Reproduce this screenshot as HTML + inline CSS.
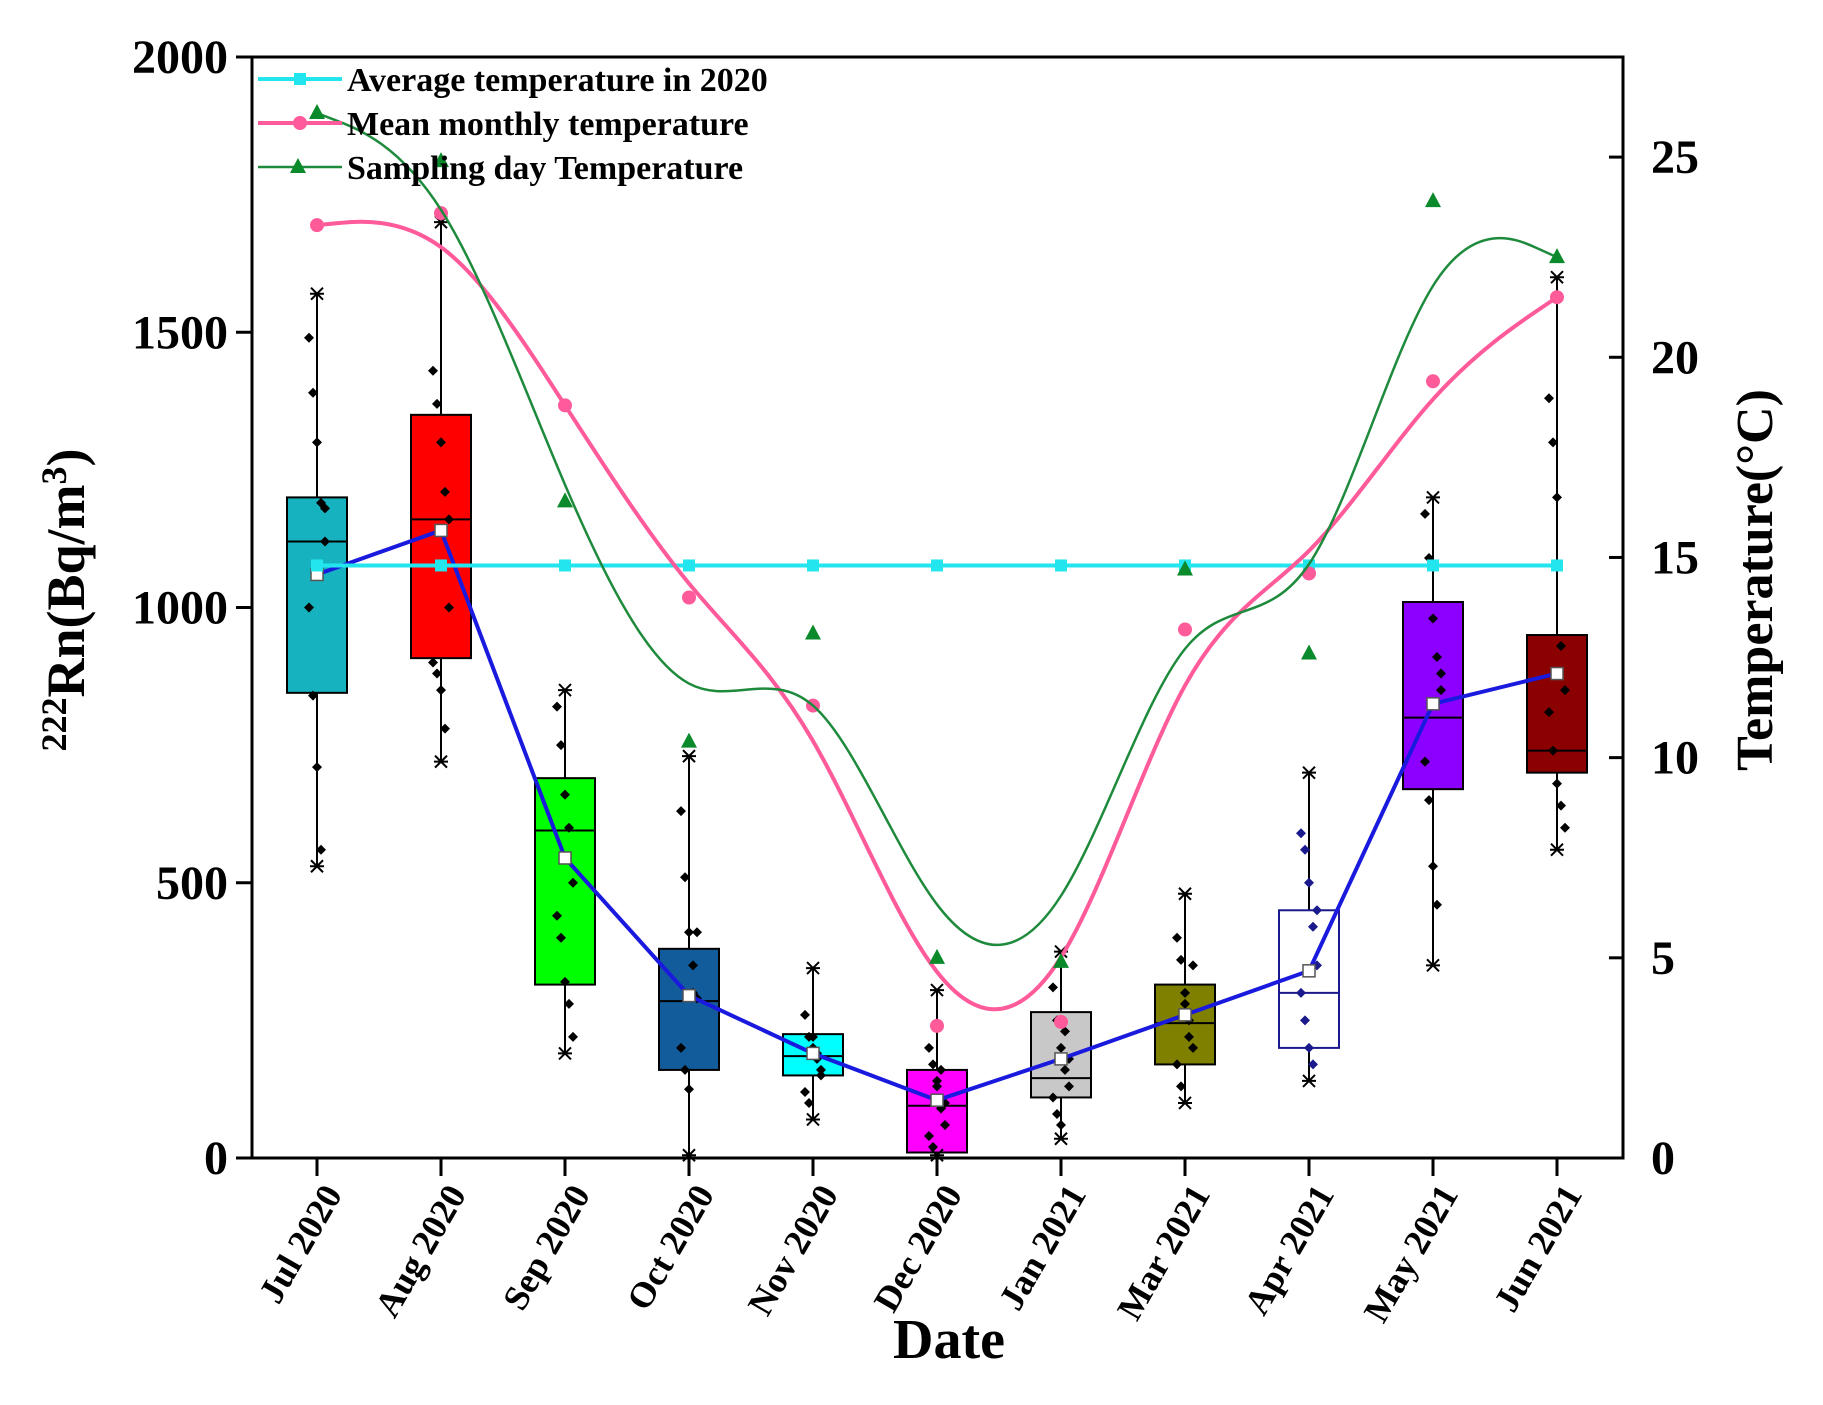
<!DOCTYPE html>
<html><head><meta charset="utf-8"><style>
body{margin:0;background:#fff}
svg{font-family:"Liberation Serif",serif;font-weight:bold}
</style></head><body>
<svg id="chart" width="1823" height="1405" viewBox="0 0 1823 1405" style="position:absolute;left:0;top:0">
<g id="plot"></g>
</svg>
<script>
const categories=["Jul 2020","Aug 2020","Sep 2020","Oct 2020","Nov 2020","Dec 2020","Jan 2021","Mar 2021","Apr 2021","May 2021","Jun 2021"];
const boxQ3=[1200,1350,690,380,225,160,265,315,450,1010,950];
const boxQ1=[845,908,315,160,150,10,110,170,200,670,700];
const boxMedian=[1120,1160,595,285,185,95,145,245,300,800,740];
const boxMean=[1060,1140,545,295,190,105,180,260,340,825,880];
const whiskerHigh=[1570,1700,850,730,345,305,375,480,700,1200,1600];
const whiskerLow=[530,720,190,5,70,5,35,100,140,350,560];
const boxColors=["#17b2bf","#ff0000","#00ff00","#135c9c","#00ffff","#ff00ff","#c8c8c8","#808000","#ffffff","#8c00ff","#8b0000"];
const rawPoints=[
[1490,1390,1300,1190,1120,1000,840,710,560,1180],
[1430,1370,1300,1210,1000,900,880,850,780,1160],
[820,750,660,600,500,440,400,320,280,220],
[630,510,410,350,290,200,160,125,300,410],
[260,220,200,180,160,120,100,220,190,150],
[200,170,130,90,60,40,20,140,160,100],
[310,250,200,160,130,110,80,60,230,180],
[400,360,300,250,200,170,130,280,220,350],
[590,560,500,420,350,300,250,200,170,450],
[1170,1090,980,910,850,720,650,530,460,880],
[1380,1300,1200,930,850,810,740,680,640,600]];
const tempTicks=[0,5,10,15,20,25];
const radonTicks=[0,500,1000,1500,2000];
const avgTemp=[14.8,14.8,14.8,14.8,14.8,14.8,14.8,14.8,14.8,14.8,14.8];
const meanMonthly=[23.3,23.6,18.8,14.0,11.3,3.3,3.4,13.2,14.6,19.4,21.5];
const samplingDay=[26.1,24.9,16.4,10.4,13.1,5.0,4.9,14.7,12.6,23.9,22.5];

const L=252,R=1623,T=57,B=1158;
const xPos=i=>317+i*124;
const yL=v=>B-(v/2000)*(B-T);
const yR=v=>B-(v/27.5)*(B-T);
const NS="http://www.w3.org/2000/svg";
const g=document.getElementById('plot');
function mk(tag,attrs,parent){const e=document.createElementNS(NS,tag);for(const k in attrs)e.setAttribute(k,attrs[k]);(parent||g).appendChild(e);return e;}

categories.forEach((c,i)=>{
  const x=xPos(i);
  const grp=mk('g',{});
  
  
  mk('line',{x1:x,x2:x,y1:yL(whiskerHigh[i]),y2:yL(whiskerLow[i]),stroke:'#000','stroke-width':2},grp);
  const stroke=i===8?'#1a1a8c':'#000';
  mk('rect',{x:x-30,y:yL(boxQ3[i]),width:60,height:yL(boxQ1[i])-yL(boxQ3[i]),fill:boxColors[i],stroke:stroke,'stroke-width':2},grp);
  mk('line',{x1:x-30,x2:x+30,y1:yL(boxMedian[i]),y2:yL(boxMedian[i]),stroke:stroke,'stroke-width':2},grp);
  [whiskerHigh[i],whiskerLow[i]].forEach(v=>{const y=yL(v);
    mk('path',{d:`M${x-6},${y-6}L${x+6},${y+6}M${x-6},${y+6}L${x+6},${y-6}M${x-7},${y}L${x+7},${y}`,stroke:'#000','stroke-width':2},grp);});
  rawPoints[i].forEach((v,j)=>{const px=x+((j%5)-2)*4,py=yL(v);
    const d=mk('path',{d:`M${px},${py-5}L${px+5},${py}L${px},${py+5}L${px-5},${py}Z`,fill:i===8?'#1a1a8c':'#000'},grp);
    
    
  });
});
const mp=boxMean.map((v,i)=>[xPos(i),yL(v)]);
const ml=mk('polyline',{points:mp.map(p=>p.join(',')).join(' '),fill:'none',stroke:'#1a1adf','stroke-width':4});


mp.forEach(p=>{mk('rect',{x:p[0]-6,y:p[1]-6,width:12,height:12,fill:'#fff',stroke:'#555','stroke-width':1.5});});

// clamped uniform cubic B-spline through control points
function bspline(pts){
  const P=[pts[0],pts[0],...pts,pts[pts.length-1],pts[pts.length-1]];
  const f=(a,b,c,wa,wb,wc,s)=>[(a[0]*wa+b[0]*wb+c[0]*wc)/s,(a[1]*wa+b[1]*wb+c[1]*wc)/s];
  let d='';
  for(let i=0;i<P.length-3;i++){
    const p0=P[i],p1=P[i+1],p2=P[i+2],p3=P[i+3];
    const s=f(p0,p1,p2,1,4,1,6),c1=f(p1,p2,p2,2,1,0,3),c2=f(p1,p2,p2,1,2,0,3),e=f(p1,p2,p3,1,4,1,6);
    if(i===0)d+=`M${s[0]},${s[1]}`;
    d+=`C${c1[0]},${c1[1]} ${c2[0]},${c2[1]} ${e[0]},${e[1]}`;
  }
  return d;}
const ap=avgTemp.map((v,i)=>[xPos(i),yR(v)]);
const al=mk('polyline',{points:ap.map(p=>p.join(',')).join(' '),fill:'none',stroke:'#22e5ee','stroke-width':4});


ap.forEach(p=>mk('rect',{x:p[0]-6,y:p[1]-6,width:12,height:12,fill:'#22e5ee'}));
const mm=meanMonthly.map((v,i)=>[xPos(i),yR(v)]);
const mml=mk('path',{d:bspline(mm),fill:'none',stroke:'#ff5a9a','stroke-width':4});


mm.forEach(p=>mk('circle',{cx:p[0],cy:p[1],r:7,fill:'#ff5a9a'}));
const sd=samplingDay.map((v,i)=>[xPos(i),yR(v)]);
const sdl=mk('path',{d:bspline(sd),fill:'none',stroke:'#1e8a3c','stroke-width':2.5});


sd.forEach(p=>mk('path',{d:`M${p[0]},${p[1]-9}L${p[0]+8},${p[1]+6}L${p[0]-8},${p[1]+6}Z`,fill:'#0a8a2a'}));

const ax=mk('g',{});


mk('rect',{x:L,y:T,width:R-L,height:B-T,fill:'none',stroke:'#000','stroke-width':3},ax);
radonTicks.forEach(v=>{const y=yL(v);mk('line',{x1:L-16,x2:L,y1:y,y2:y,stroke:'#000','stroke-width':3},ax);
  const t=mk('text',{x:L-24,y:y+16,'text-anchor':'end','font-size':48},ax);t.textContent=v;
  });
tempTicks.forEach(v=>{const y=yR(v);mk('line',{x1:R-14,x2:R,y1:y,y2:y,stroke:'#000','stroke-width':3},ax);
  const t=mk('text',{x:R+28,y:y+16,'font-size':48},ax);t.textContent=v;
  });
categories.forEach((c,i)=>{const x=xPos(i);mk('line',{x1:x,x2:x,y1:B,y2:B+18,stroke:'#000','stroke-width':3},ax);
  const t=mk('text',{x:x+26,y:B+36,'text-anchor':'end','font-size':36,transform:`rotate(-60 ${x+26} ${B+36})`},ax);t.textContent=c;
  });
</script>
<svg style="position:absolute;left:0;top:0" width="1823" height="1405">
<g font-family="Liberation Serif,serif" font-weight="bold">
<text x="949" y="1358" text-anchor="middle" font-size="56">Date</text>
<text transform="translate(84,600) rotate(-90)" text-anchor="middle" font-size="54"><tspan font-size="36" dy="-18">222</tspan><tspan dy="18">Rn(Bq/m</tspan><tspan font-size="36" dy="-18">3</tspan><tspan dy="18">)</tspan></text>
<text transform="translate(1772,580) rotate(-90)" text-anchor="middle" font-size="52">Temperature(°C)</text>
<g font-size="34">
<line x1="258" x2="342" y1="79" y2="79" stroke="#22e5ee" stroke-width="4"/><rect x="294" y="73" width="12" height="12" fill="#22e5ee"/>
<text x="347" y="91">Average temperature in 2020</text>
<line x1="258" x2="342" y1="123" y2="123" stroke="#ff5a9a" stroke-width="4"/><circle cx="300" cy="123" r="7" fill="#ff5a9a"/>
<text x="347" y="135">Mean monthly temperature</text>
<line x1="258" x2="342" y1="167" y2="167" stroke="#1e8a3c" stroke-width="2.5"/><path d="M298,158L306,173L290,173Z" fill="#0a8a2a"/>
<text x="347" y="179">Sampling day Temperature</text>
</g></g></svg>
</body></html>
